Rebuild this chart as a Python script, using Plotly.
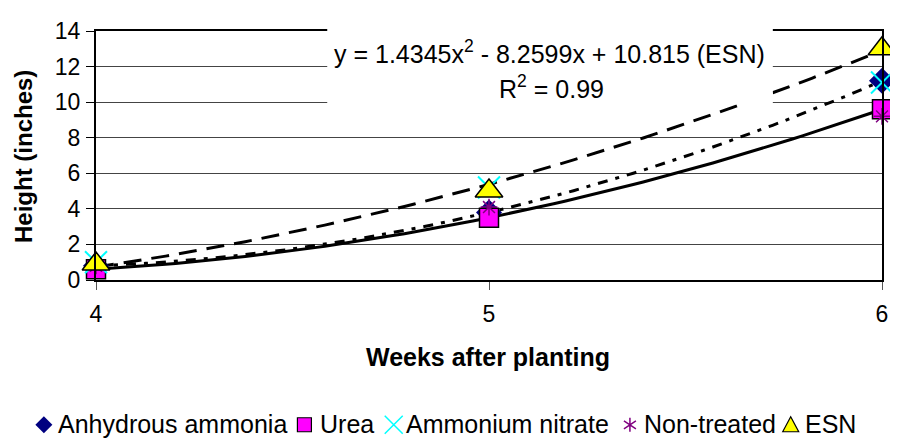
import numpy as np
import plotly.graph_objects as go

weeks = [4, 5, 6]
anhydrous_ammonia = [0.8, 3.8, 11.2]
urea = [0.6, 3.5, 9.6]
ammonium_nitrate = [1.0, 5.2, 11.1]
non_treated = [0.8, 4.1, 9.2]
esn = [0.9, 5.0, 13.0]

# trendline coefficients shown on the chart for ESN
esn_coef = [1.4345, -8.2599, 10.815]
esn_r2 = 0.99

font = "Liberation Sans, Arial, sans-serif"

# page has an 8px body margin, so the figure is drawn 8px smaller and positions
# below are given in page pixels and converted to paper fractions
PL, PR, PT, PB = 96, 888, 22, 280


def fx(X):
    return (X - PL) / (PR - PL)


def fy(Y):
    return (PB - Y) / (PB - PT)


fig = go.Figure()

# trendlines (polynomial, order 2)
xs = np.linspace(4, 6, 80)
fig.add_trace(go.Scatter(x=xs, y=np.polyval(np.polyfit(weeks, urea, 2), xs), mode="lines",
                         line=dict(color="black", width=3), showlegend=False, hoverinfo="skip"))
fig.add_trace(go.Scatter(x=xs, y=np.polyval(np.polyfit(weeks, anhydrous_ammonia, 2), xs), mode="lines",
                         line=dict(color="black", width=3, dash="10px,8px,4px,8px"), showlegend=False, hoverinfo="skip"))
fig.add_trace(go.Scatter(x=xs, y=np.polyval(esn_coef, xs), mode="lines",
                         line=dict(color="black", width=3, dash="18px,10px"), showlegend=False, hoverinfo="skip"))

series = [
    ("Anhydrous ammonia", anhydrous_ammonia, dict(symbol="diamond", color="#000080", size=20, line=dict(width=0))),
    ("Urea", urea, dict(symbol="square", color="#FF00FF", size=19, line=dict(color="black", width=1.5))),
    ("Ammonium nitrate", ammonium_nitrate, dict(symbol="x-thin-open", color="#00FFFF", size=22, line=dict(color="#00FFFF", width=2))),
    ("Non-treated", non_treated, dict(symbol="asterisk-open", color="#800080", size=14, line=dict(color="#800080", width=1.5))),
    ("ESN", esn, dict(symbol="triangle-up", color="#FFFF00", size=24, line=dict(color="black", width=1.5))),
]
for name, vals, marker in series:
    fig.add_trace(go.Scatter(x=weeks, y=vals, mode="markers", name=name, marker=marker,
                             cliponaxis=False, showlegend=False))

# white label box of the trendline equation
shapes = [dict(type="rect", xref="paper", yref="paper", x0=fx(329), x1=fx(778), y0=fy(98), y1=fy(19),
               fillcolor="white", line=dict(width=0), layer="above")]

# hand-placed legend (symbol centre x, text start x)
leg_y = 430
leg = [
    ("Anhydrous ammonia", 43.5, 57, dict(type="path", path="M -8.5 0 L 0 8.5 L 8.5 0 L 0 -8.5 Z",
                                          fillcolor="#000080", line=dict(width=0))),
    ("Urea", 306, 321, dict(type="rect", x0=-7, x1=7, y0=-7, y1=7, fillcolor="#FF00FF",
                            line=dict(color="black", width=1.2))),
    ("Ammonium nitrate", 396, 407, dict(type="path", path="M -9 -9 L 9 9 M -9 9 L 9 -9",
                                        line=dict(color="#00FFFF", width=1.5))),
    ("Non-treated", 634, 647, dict(type="path", path="M 0 -7 L 0 7 M -6 -4 L 6 4 M -6 4 L 6 -4",
                                   line=dict(color="#800080", width=1.5))),
    ("ESN", 796, 809, dict(type="path", path="M -8 -7 L 0 8 L 8 -7 Z", fillcolor="#FFFF00",
                           line=dict(color="black", width=1.2))),
]
mid = dict(xref="paper", yref="paper", showarrow=False, xanchor="center", yanchor="middle")
annotations = [
    dict(mid, x=fx(553), y=fy(44),
         text="y = %.4fx<sup>2</sup> - %.4fx + %.3f (ESN)" % (esn_coef[0], -esn_coef[1], esn_coef[2]),
         font=dict(size=25)),
    dict(mid, x=fx(555), y=fy(80), text="R<sup>2</sup> = %.2f" % esn_r2, font=dict(size=25)),
    dict(mid, x=fx(491), y=fy(360), text="<b>Weeks after planting</b>", font=dict(size=25)),
    dict(mid, x=fx(23), y=fy(152), textangle=-90, text="<b>Height (inches)</b>", font=dict(size=24)),
]
for name, cx, tx, shp in leg:
    shp.update(xref="paper", yref="paper", xsizemode="pixel", ysizemode="pixel",
               xanchor=fx(cx), yanchor=fy(leg_y), layer="above")
    shapes.append(shp)
    annotations.append(dict(mid, x=fx(tx - 1), y=fy(leg_y - 1), xanchor="left", text=name,
                            font=dict(size=25)))

fig.update_layout(
    width=890, height=437,
    margin=dict(l=PL - 8, r=890 - (PR - 8), t=PT - 8, b=437 - (PB - 8)),
    paper_bgcolor="white", plot_bgcolor="white",
    font=dict(family=font, size=23, color="black"),
    showlegend=False,
    shapes=shapes,
    annotations=annotations,
)
fig.update_xaxes(range=[4, 6], tickvals=weeks, ticks="outside", ticklen=8, tickcolor="#555",
                 ticklabelstandoff=4,
                 showgrid=False, zeroline=False, showline=True, linecolor="black", linewidth=2, mirror=True)
fig.update_yaxes(range=[0, 14], dtick=2, ticks="outside", ticklen=8, tickcolor="black",
                 ticklabelstandoff=1,
                 showgrid=True, gridcolor="#444", gridwidth=1, zeroline=False,
                 showline=True, linecolor="black", linewidth=2, mirror=True)

fig.write_html("out.html")
